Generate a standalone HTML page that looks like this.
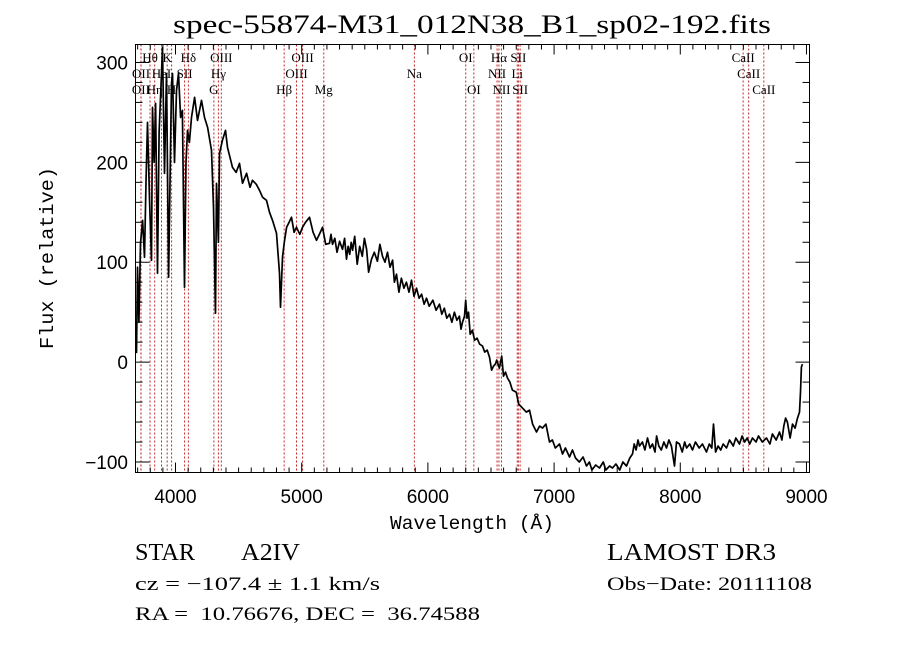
<!DOCTYPE html>
<html><head><meta charset="utf-8">
<style>
html,body{margin:0;padding:0;background:#fff;}
svg{display:block;font-family:"Liberation Serif",serif;}
</style></head>
<body>
<svg id="chart" width="900" height="649" viewBox="0 0 900 649" xmlns="http://www.w3.org/2000/svg">
<rect width="900" height="649" fill="#fff"/>
<text x="173" y="33" font-size="26" textLength="598" lengthAdjust="spacingAndGlyphs">spec-55874-M31_012N38_B1_sp02-192.fits</text>
<g id="lines"></g>
<g id="labels" font-size="13"></g>
<path id="spec" fill="none" stroke="#000" stroke-width="1.7" stroke-linejoin="round"/>
<rect x="135.5" y="44.5" width="674" height="428" fill="none" stroke="#000" stroke-width="1"/>
<g id="axes" stroke="#000" stroke-width="1"></g>
<g id="ticklabels" font-family="Liberation Sans, sans-serif" font-size="19"></g>
<text x="472" y="529" font-family="Liberation Mono, monospace" font-size="19" text-anchor="middle" textLength="164" lengthAdjust="spacingAndGlyphs">Wavelength (Å)</text>
<text transform="translate(53,258) rotate(-90)" font-family="Liberation Mono, monospace" font-size="19" text-anchor="middle" textLength="182" lengthAdjust="spacingAndGlyphs">Flux (relative)</text>
<text x="135" y="560" font-size="24" textLength="60" lengthAdjust="spacingAndGlyphs">STAR</text>
<text x="241" y="560" font-size="24" textLength="59" lengthAdjust="spacingAndGlyphs">A2IV</text>
<text x="607" y="560" font-size="24" textLength="169" lengthAdjust="spacingAndGlyphs">LAMOST DR3</text>
<text x="135" y="590" font-size="19" textLength="245" lengthAdjust="spacingAndGlyphs">cz = −107.4 ± 1.1 km/s</text>
<text x="607" y="590" font-size="19" textLength="205" lengthAdjust="spacingAndGlyphs">Obs−Date: 20111108</text>
<text x="135" y="620" font-size="19" textLength="345" lengthAdjust="spacingAndGlyphs" xml:space="preserve" style="white-space:pre">RA =  10.76676, DEC =  36.74588</text>
</svg>
<script>
const wavelengths=[3691,3699,3710,3723,3739,3754,3766,3778,3795,3810,3818,3830,3842,3857,3870,3889,3897,3913,3929,3945,3968,3976,3992,4008,4024,4040,4055,4071,4083,4095,4110,4127,4151,4174,4206,4230,4254,4285,4301,4317,4325,4340,4349,4372,4396,4412,4432,4452,4480,4507,4531,4563,4590,4610,4640,4666,4690,4721,4745,4769,4800,4824,4832,4848,4862,4880,4900,4919,4940,4959,4985,5006,5030,5062,5090,5117,5140,5165,5190,
5220,5232,5244,5262,5280,5300,5323,5340,5355,5368,5380,5392,5403,5420,5440,5460,5480,5497,5514,5530,5553,5575,5600,5620,5640,5660,5680,5700,5720,5735,5751,5770,5790,5810,5830,5850,5870,5890,5910,5930,5950,5970,5989,6010,6040,6065,6092,6110,6130,6150,6171,6190,6210,6230,6250,6262,6274,6290,6300,6310,6322,6335,6353,6370,6390,6410,6433,6450,6470,6488,6505,6520,6535,6545,6567,6585,6599,6615,6631,6650,6670,6700,6720,6750,6780,6805,6830,6861,6885,6908,6935,6964,6987,7010,7043,7067,7090,7122,7146,7170,7200,7230,7257,7280,7300,7330,7360,7390,7410,7440,7463,7490,7520,7545,7574,7600,7621,7635,7650,7665,7677,7700,7720,7740,7760,7780,7800,7812,7830,7850,7870,7891,7910,7930,7954,7970,7994,8015,8035,8050,8075,8097,8120,8150,8175,8208,8230,8250,8263,8280,8300,8320,8340,8366,8390,8420,8440,8469,8490,8510,8530,8550,8572,8600,8620,8650,8683,8710,8730,8760,8786,8805,8820,8835,8849,8870,8889,8910,8929,8945,8953,8960,8968];
const flux=[9,95,40,119,142,105,180,240,160,102,255,200,259,89,230,289,315,189,289,85,279,289,200,272,289,245,252,75,200,232,220,245,265,242,262,245,235,212,155,49,179,120,209,222,232,215,205,195,190,199,179,189,175,182,178,172,165,162,150,142,129,89,55,105,120,135,140,145,130,135,128,135,140,145,130,122,128,135,118,
119,128,118,124,110,121,113,124,103,116,108,120,112,126,98,116,106,124,113,90,103,110,101,118,106,100,110,95,102,80,88,70,84,74,80,70,82,66,74,64,68,58,64,56,62,52,58,48,54,44,48,40,50,42,46,33,40,46,62,44,50,28,32,22,24,18,16,10,12,5,-8,-4,-2,2,-6,6,-14,-10,-16,-20,-28,-30,-42,-46,-50,-48,-62,-70,-64,-66,-62,-80,-78,-86,-82,-92,-86,-95,-88,-96,-100,-95,-104,-100,-108,-103,-106,-100,-108,-104,-106,-102,-108,-100,-104,-96,-92,-82,-88,-78,-84,-80,-88,-76,-86,-82,-90,-74,-84,-88,-80,-86,-78,-84,-104,-80,-82,-90,-80,-86,-82,-88,-80,-86,-82,-90,-82,-86,-62,-90,-84,-88,-82,-86,-78,-84,-76,-82,-74,-80,-76,-82,-76,-80,-74,-80,-76,-82,-72,-78,-70,-78,-64,-56,-60,-76,-62,-66,-56,-50,-30,-5,-2];
const lineWaves=[3727,3726,3798,3835,3889,3934,3969,4072,4102,4304,4340,4363,4861,4959,5007,5175,5893,6300,6364,6548,6563,6583,6708,6717,6731,8498,8542,8662];
const lineNames=["OII","OII","Hθ","Hη","HeI","K","H","SII","Hδ","G","Hγ","OIII","Hβ","OIII","OIII","Mg","Na","OI","OI","NII","Hα","NII","Li","SII","SII","CaII","CaII","CaII"];
const lineRows=[2,3,1,3,2,1,3,2,1,3,2,1,3,2,1,3,2,1,3,2,1,3,2,1,3,1,2,3];
const xTicks=[4000,5000,6000,7000,8000,9000];
const yTicks=[300,200,100,0,-100];

const X0=135.5,X1=809.5,Y0=44.5,Y1=472.5;
const LMIN=3683,LMAX=9024,FMIN=-110.5,FMAX=318;
function xs(l){return X0+(l-LMIN)/(LMAX-LMIN)*(X1-X0);}
function ys(f){return Y1-(f-FMIN)/(FMAX-FMIN)*(Y1-Y0);}
const NS="http://www.w3.org/2000/svg";

let d="";
for(let i=0;i<wavelengths.length;i++){d+=(i?"L":"M")+xs(wavelengths[i]).toFixed(1)+","+ys(flux[i]).toFixed(1);}
document.getElementById("spec").setAttribute("d",d);

const lg=document.getElementById("lines"),lb=document.getElementById("labels");
for(let i=0;i<lineWaves.length;i++){
  const x=xs(lineWaves[i]);
  const ln=document.createElementNS(NS,"line");
  
  
  ln.setAttribute("x1",x);ln.setAttribute("x2",x);ln.setAttribute("y1",Y0);ln.setAttribute("y2",Y1);
  ln.setAttribute("stroke","#c0282a");ln.setAttribute("stroke-width","1");ln.setAttribute("stroke-dasharray","2,2");
  lg.appendChild(ln);
  const t=document.createElementNS(NS,"text");
  
  
  t.setAttribute("x",x);t.setAttribute("y",46+lineRows[i]*16);t.setAttribute("text-anchor","middle");
  t.textContent=lineNames[i];lb.appendChild(t);
}

const ax=document.getElementById("axes"),tl=document.getElementById("ticklabels");
function tick(x1,y1,x2,y2){const l=document.createElementNS(NS,"line");
  
  
  l.setAttribute("x1",x1);l.setAttribute("y1",y1);l.setAttribute("x2",x2);l.setAttribute("y2",y2);ax.appendChild(l);}
for(let l=3700;l<=9000;l+=100){const x=xs(l);const len=(l%1000===0)?10:5;tick(x,Y1,x,Y1-len);tick(x,Y0,x,Y0+len);}
for(let f=-100;f<=300;f+=20){const y=ys(f);const len=(f%100===0)?14:7;tick(X0,y,X0+len,y);tick(X1,y,X1-len,y);}
xTicks.forEach(v=>{const t=document.createElementNS(NS,"text");
  
  
  t.setAttribute("x",xs(v));t.setAttribute("y",503);t.setAttribute("text-anchor","middle");t.textContent=v;tl.appendChild(t);});
yTicks.forEach(v=>{const t=document.createElementNS(NS,"text");
  
  
  t.setAttribute("x",128);t.setAttribute("y",ys(v)+7);t.setAttribute("text-anchor","end");t.textContent=(v<0?"−":"")+Math.abs(v);tl.appendChild(t);});
</script>
</body></html>
